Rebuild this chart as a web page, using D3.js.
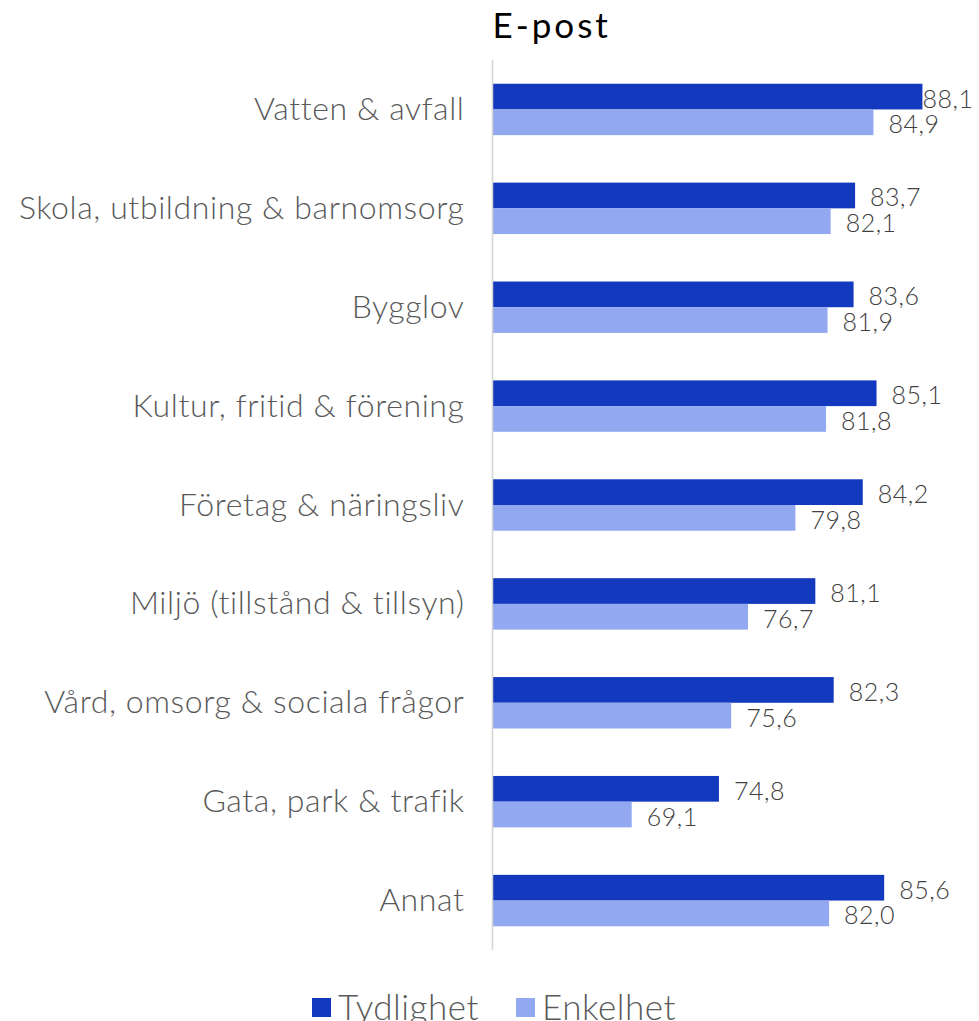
<!DOCTYPE html>
<html>
<head>
<meta charset="utf-8">
<script src="https://cdn.jsdelivr.net/npm/d3@7"></script>
<style>
  html, body { margin: 0; padding: 0; background: #fff; }
  svg { display: block; }
  text { font-family: "Lato", "Open Sans", sans-serif; }
</style>
</head>
<body>
<svg id="chart" width="979" height="1021"></svg>
<script>
const categories = [
  "Vatten & avfall",
  "Skola, utbildning & barnomsorg",
  "Bygglov",
  "Kultur, fritid & förening",
  "Företag & näringsliv",
  "Miljö (tillstånd & tillsyn)",
  "Vård, omsorg & sociala frågor",
  "Gata, park & trafik",
  "Annat"
];
const seriesNames = ["Tydlighet", "Enkelhet"];
const tydlighet = [88.1, 83.7, 83.6, 85.1, 84.2, 81.1, 82.3, 74.8, 85.6];
const enkelhet  = [84.9, 82.1, 81.9, 81.8, 79.8, 76.7, 75.6, 69.1, 82.0];
const title = "E-post";

const colors = ["#1339be", "#92a9f2"];
const svg = d3.select("#chart");

const xAxisPos = 492.5;
const x = d3.scaleLinear().domain([60, 90]).range([xAxisPos, 951.5]);
const y = d3.scaleBand().domain(categories).range([60, 950]).paddingInner(0.48).paddingOuter(0.24);
const sub = d3.scaleBand().domain(seriesNames).range([0, y.bandwidth()]);

const data = categories.map((c, i) => ({ cat: c, values: [tydlighet[i], enkelhet[i]] }));

// title
svg.append("text")
  .attr("x", xAxisPos)
  .attr("y", 38)
  .attr("font-size", 35)
  .attr("letter-spacing", 3)
  .attr("fill", "#000")
  .text(title);

// groups
const g = svg.append("g");
const groups = g.selectAll("g.grp").data(data).join("g")
  .attr("transform", d => `translate(0,${y(d.cat)})`);

groups.selectAll("rect").data(d => d.values.map((v, k) => ({ v, k }))).join("rect")
  .attr("x", x(60))
  .attr("y", d => sub(seriesNames[d.k]))
  .attr("width", d => x(d.v) - x(60))
  .attr("height", sub.bandwidth())
  .attr("fill", d => colors[d.k]);

// value labels
const valLS = 0.5;
groups.selectAll("text.val").data(d => d.values.map((v, k) => ({ v, k }))).join("text")
  .attr("class", "val")
  .attr("font-size", 25)
  .attr("font-weight", 300)
  .attr("letter-spacing", valLS)
  .attr("fill", "#404040")
  .attr("y", d => sub(seriesNames[d.k]) + sub.bandwidth() / 2 + 11)
  .text(d => d.v.toFixed(1).replace(".", ","))
  .each(function(d) {
    const w = this.getComputedTextLength();
    let px = x(d.v) + 15;
    if (px + w - valLS > 973) px = 973 + valLS - w;
    d3.select(this).attr("x", px);
  });

// category labels
const yAxis = d3.axisLeft(y).tickSize(0).tickPadding(0);
const ya = svg.append("g").attr("transform", `translate(${xAxisPos - 28},0)`).call(yAxis);
ya.select(".domain").remove();
ya.selectAll("text")
  .attr("font-size", 32)
  .attr("font-weight", 300)
  .attr("letter-spacing", 0.6)
  .attr("fill", "#595959")
  .style("font-family", "Lato, 'Open Sans', sans-serif")
  .attr("dy", "0.33em");

// axis line
svg.append("line")
  .attr("x1", xAxisPos).attr("x2", xAxisPos)
  .attr("y1", 60).attr("y2", 950)
  .attr("stroke", "#d4d4d4").attr("stroke-width", 1.5);

// legend
const legend = svg.append("g");
const legX = [312, 516];
seriesNames.forEach((s, i) => {
  legend.append("rect")
    .attr("x", legX[i]).attr("y", 998)
    .attr("width", 19).attr("height", 19)
    .attr("fill", colors[i]);
  legend.append("text")
    .attr("x", legX[i] + 26).attr("y", 1020)
    .attr("font-size", 35)
    .attr("font-weight", 300)
    .attr("letter-spacing", 0.5)
    .attr("fill", "#595959")
    .text(s);
});
</script>
</body>
</html>
